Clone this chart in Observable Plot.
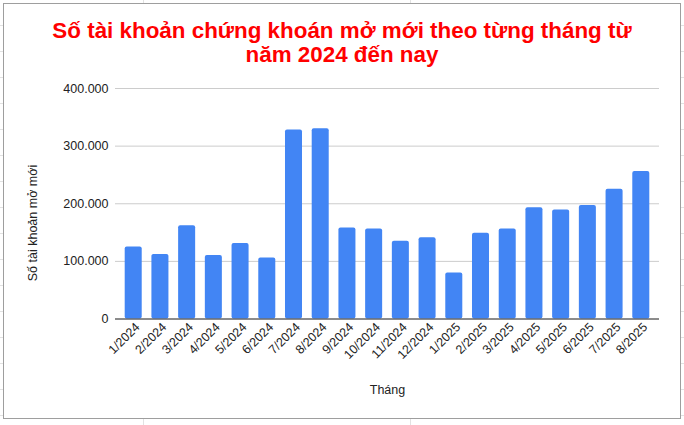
<!DOCTYPE html>
<html>
<head>
<meta charset="utf-8">
<script src="https://cdn.jsdelivr.net/npm/d3@7"></script>
<script src="https://cdn.jsdelivr.net/npm/@observablehq/plot@0.6"></script>
<style>
  html, body { margin: 0; padding: 0; width: 684px; height: 425px; overflow: hidden; background: #fff; font-family: "Liberation Sans", Arial, sans-serif; }
  #sheet { position: absolute; left: 0; top: 0; width: 684px; height: 425px;
    background-image:
      linear-gradient(to right, transparent 143px, #e2e2e2 143px, #e2e2e2 144px, transparent 144px, transparent 410px, #e2e2e2 410px, #e2e2e2 411px, transparent 411px),
      repeating-linear-gradient(to bottom, transparent 0px, transparent 25px, #e2e2e2 25px, #e2e2e2 26px);
  }
  #frame { position: absolute; left: 3px; top: 3px; width: 676px; height: 414px; border: 1px solid #9e9e9e; background: #fff; }
  #title { position: absolute; left: 0; top: 19px; width: 684px; text-align: center; color: #ff0000; font-weight: bold; font-size: 22.4px; line-height: 24px; }
  #chart { position: absolute; left: 0; top: 70px; }
  #ytitle { position: absolute; left: 33px; top: 223px; width: 0; height: 0; }
  #ytitle span { position: absolute; left: 0; top: 0; transform: translate(-50%, -50%) rotate(-90deg); white-space: nowrap; font-size: 12.5px; color: #222; line-height: 14px; }
</style>
</head>
<body>
<div id="sheet"></div>
<div id="frame"></div>
<div id="title">Số tài khoản chứng khoán mở mới theo từng tháng từ<br>năm 2024 đến nay</div>
<div id="chart"></div>
<div id="ytitle"><span></span></div>
<script>
const months = ["1/2024","2/2024","3/2024","4/2024","5/2024","6/2024","7/2024","8/2024","9/2024","10/2024","11/2024","12/2024","1/2025","2/2025","3/2025","4/2025","5/2025","6/2025","7/2025","8/2025"];
const accounts = [125000,112000,162000,110000,131000,106000,328000,330000,158000,156000,135000,141000,80000,149000,156000,193000,189000,197000,225000,256000];
const yTicks = [0,100000,200000,300000,400000];
const xTitle = "Tháng";
const yTitle = "Số tài khoản mở mới";

const data = months.map((m, i) => ({month: m, value: accounts[i]}));
const vn = d3.formatLocale({decimal: ",", thousands: ".", grouping: [3], currency: ["", ""]});
const fmt = vn.format(",d");

document.querySelector("#ytitle span").textContent = yTitle;

const chart = Plot.plot({
  width: 684,
  height: 340,
  marginLeft: 115,
  marginRight: 25,
  marginTop: 18,
  marginBottom: 91.5,
  style: {fontFamily: "'Liberation Sans', Arial, sans-serif", fontSize: "12.5px", color: "#222", background: "transparent"},
  x: {domain: months, padding: 0.363, round: false},
  y: {domain: [0, 400000]},
  marks: [
    Plot.gridY(yTicks, {stroke: "#cccccc", strokeOpacity: 1, strokeWidth: 1}),
    Plot.barY(data, {x: "month", y: "value", fill: "#4285f4", rx: 2}),
    Plot.ruleY([0], {stroke: "#333", strokeWidth: 1}),
    Plot.axisY(yTicks, {tickFormat: fmt, tickSize: 0, tickPadding: 7, label: null, fontSize: 12.5}),
    Plot.axisX({tickSize: 0, tickPadding: 6, tickRotate: -45, dx: 4, label: xTitle, labelAnchor: "center", labelArrow: "none", labelOffset: 75, fontSize: 12.5})
  ]
});
document.getElementById("chart").appendChild(chart);
</script>
</body>
</html>
